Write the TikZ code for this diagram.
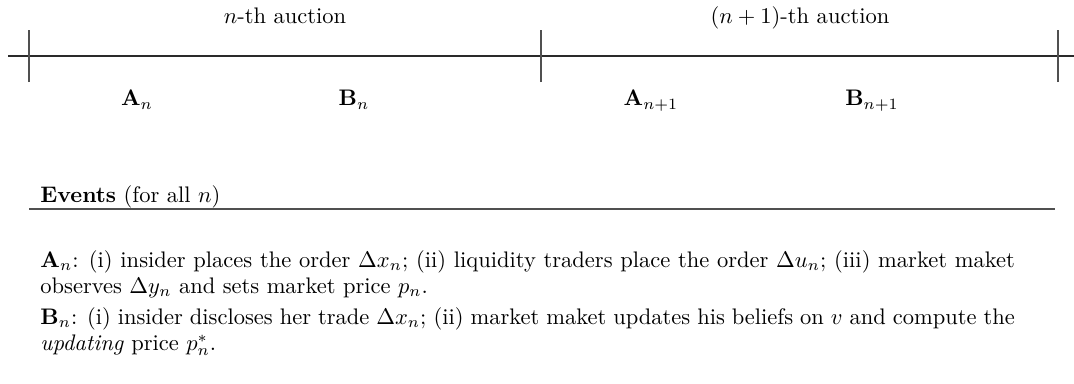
\documentclass[tikz,border=0pt]{standalone}
\usepackage{amsmath,amssymb}
\usepackage{tikz}
\usepackage{xcolor}
\usetikzlibrary{positioning}
\definecolor{tickgrey}{HTML}{505050}
\definecolor{lineblack}{HTML}{2A2A2A}

\begin{document}
\begin{tikzpicture}[x=0.4444pt,y=0.4444pt,
  tick/.style={draw=tickgrey,line width=0.7pt},
  lab/.style={anchor=base,inner sep=0pt},
  evt/.style={anchor=north west,inner sep=0pt,text width=433pt,align=justify,
    font=\fontsize{10}{11.6}\selectfont}]
  \useasboundingbox (0,0) rectangle (1074,383);
  % time line with the auction ticks
  \coordinate (start) at (8,327);
  \coordinate (stop) at (1074,327);
  \draw[lineblack,line width=0.6pt] (start) -- (stop);
  \foreach \t/\x in {t0/29, t1/541, t2/1058} {
    \coordinate (\t) at (\x,327);
    \draw[tick] (\x,301) -- (\x,353);
  }

  \node[lab] (nth) at (285,360) {$n$-th auction};
  \node[lab] (nnth) at (800,360) {$(n+1)$-th auction};

  \node[lab] (An) at (137,277) {$\mathbf{A}_n$};
  \node[lab] (Bn) at (354,277) {$\mathbf{B}_n$};
  \node[lab] (Ann) at (651,277) {$\mathbf{A}_{n+1}$};
  \node[lab] (Bnn) at (872,277) {$\mathbf{B}_{n+1}$};

  % list of events
  \node[anchor=base west,inner sep=0pt] (events) at (40,181) {\textbf{Events} (for all $n$)};
  \draw[tickgrey,line width=0.6pt] (29,174) -- (1055,174);
  \node[evt] (evA) at (40,133) {$\mathbf{A}_n$: (i) insider places the order $\Delta x_n$; (ii) liquidity traders place the order $\Delta u_n$; (iii) market maket observes $\Delta y_n$ and sets market price $p_n$.};
  \node[evt] (evB) at (40,76) {$\mathbf{B}_n$: (i) insider discloses her trade $\Delta x_n$; (ii) market maket updates his beliefs on $v$ and compute the \emph{updating} price $p^*_n$.};
\end{tikzpicture}
\end{document}
